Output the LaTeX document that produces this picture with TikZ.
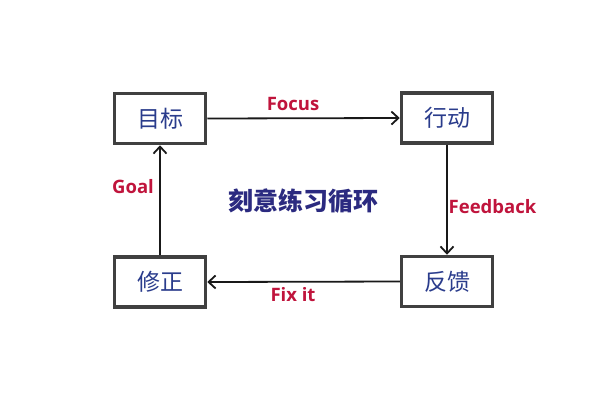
\documentclass[tikz,border=0pt]{standalone}
\usepackage{fontspec}
\setmainfont{Open Sans}
\newfontfamily\cjk{Noto Sans CJK SC}
\usetikzlibrary{arrows.meta}
\definecolor{boxline}{HTML}{404040}
\definecolor{boxtext}{HTML}{2A3C8C}
\definecolor{lblred}{HTML}{C0143C}
\definecolor{midtext}{HTML}{2B2A80}
\tikzset{
  stage/.style={draw=boxline, line width=3.5pt, fill=white, minimum width=91pt, minimum height=50pt,
    inner sep=0pt, text=boxtext, font=\cjk\fontsize{23}{25}\selectfont},
  flow/.style={draw=black!90, line width=1.8pt, -{Straight Barb[length=7pt,width=13pt,line width=1.8pt]}},
  lbl/.style={text=lblred, font=\bfseries\fontsize{18.5}{20}\selectfont, inner sep=0pt}
}
\begin{document}
\begin{tikzpicture}[x=1pt,y=-1pt]
\useasboundingbox (0,0) rectangle (600,400);
\fill[white] (0,0) rectangle (600,400);
\node[stage] (goal) at (160,118.5) {目标};
\node[stage] (act) at (447,118) {行动};
\node[stage] (fix) at (160,282) {修正};
\node[stage] (fb) at (447,281.5) {反馈};
\draw[flow] (goal.east) -- (act.west);
\draw[flow] (act.south) -- (fb.north);
\draw[flow] (fb.west) -- (fix.east);
\draw[flow] (fix.north) -- (goal.south);
\node[lbl] (l1) at (293,104) {Focus};
\node[lbl] (l2) at (492.5,207) {Feedback};
\node[lbl] (l3) at (293,295) {Fix it};
\node[lbl] (l4) at (133,187) {Goal};
\node[text=midtext, font=\cjk\bfseries\fontsize{25}{27}\selectfont] (mid) at (303,201) {刻意练习循环};
\end{tikzpicture}
\end{document}
